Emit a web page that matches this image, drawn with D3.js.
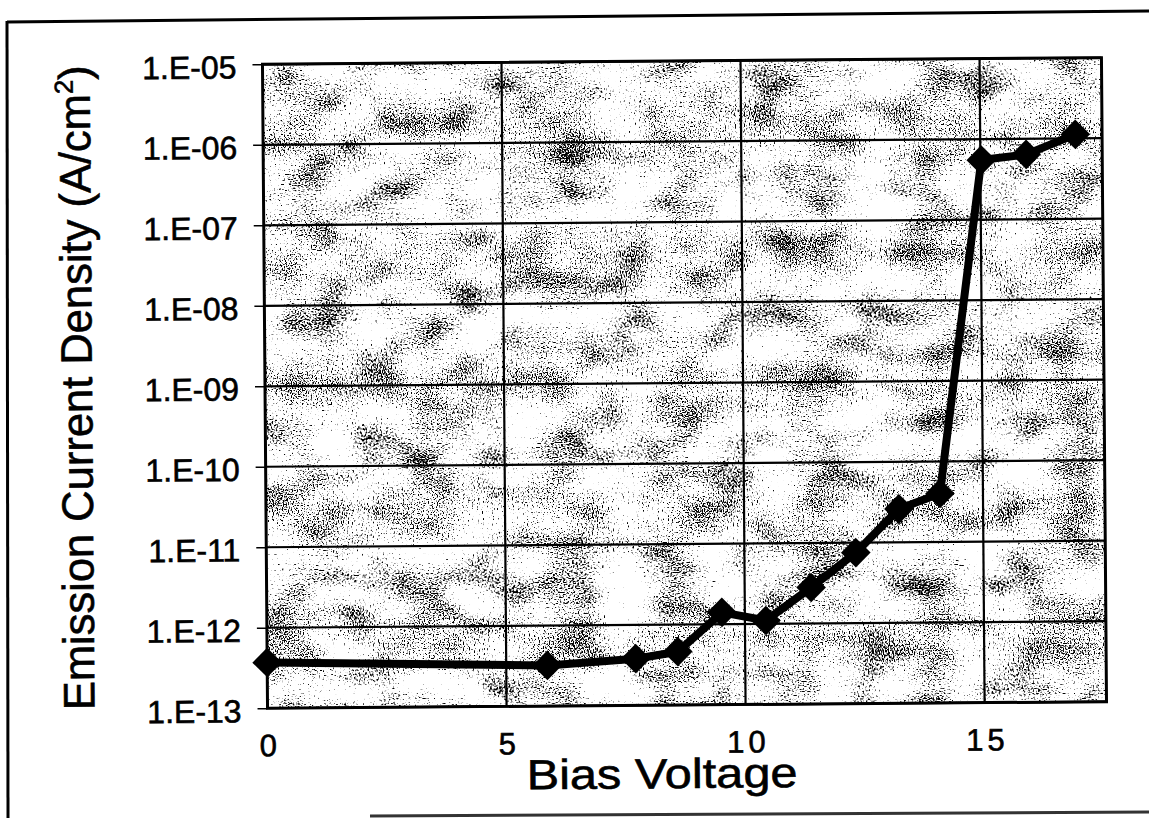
<!DOCTYPE html>
<html>
<head>
<meta charset="utf-8">
<script src="https://cdn.jsdelivr.net/npm/d3@7"></script>
<style>
  html, body { margin: 0; padding: 0; background: #fff; }
  svg { display: block; }
  text { font-family: "Liberation Sans", Arial, Helvetica, sans-serif; fill: #000; stroke: #000; stroke-width: 0.6px; }
</style>
</head>
<body>
<svg id="chart" width="1149" height="818"></svg>
<script>
// ---- data ----
const voltage = [0, 5.86, 7.71, 8.59, 9.52, 10.44, 11.39, 12.33, 13.24, 14.10, 15.02, 15.96, 16.99];
const current = [3.7e-13, 3.2e-13, 3.8e-13, 4.6e-13, 1.4e-12, 1.1e-12, 2.8e-12, 7.5e-12, 2.6e-11, 4.0e-11, 5.5e-7, 6.4e-7, 1.12e-6];
const yTickValues = [1e-13, 1e-12, 1e-11, 1e-10, 1e-9, 1e-8, 1e-7, 1e-6, 1e-5];
const yTickLabels = ["1.E-13", "1.E-12", "1.E-11", "1.E-10", "1.E-09", "1.E-08", "1.E-07", "1.E-06", "1.E-05"];
const xTickValues = [0, 5, 10, 15];
const xTickLabels = ["0", "5", "10", "15"];
const xDomain = [0, 17.55];
const yDomain = [1e-13, 1e-5];
const xTitle = "Bias Voltage";
const yTitle = "Emission Current Density (A/cm";

(function () {
// ---- layout ----
const W = 1149, H = 818;
const pL = 265, pR = 1104, pT = 61, pB = 705;

const svg = d3.select("#chart");

// speckle texture filter (scan-like dithering of grey fill)
const defs = svg.append("defs");
const f = defs.append("filter").attr("id", "grain")
  .attr("x", 0).attr("y", 0).attr("width", "100%").attr("height", "100%")
  .attr("color-interpolation-filters", "sRGB");
f.append("feTurbulence").attr("type", "fractalNoise").attr("baseFrequency", 0.8)
  .attr("numOctaves", 1).attr("seed", 4).attr("result", "fineRaw");
f.append("feColorMatrix").attr("in", "fineRaw").attr("type", "matrix")
  .attr("values", "1 0 0 0 0  1 0 0 0 0  1 0 0 0 0  0 0 0 0 1").attr("result", "fine");
f.append("feTurbulence").attr("type", "fractalNoise").attr("baseFrequency", "0.02 0.03")
  .attr("numOctaves", 2).attr("seed", 11).attr("result", "coarseRaw");
f.append("feColorMatrix").attr("in", "coarseRaw").attr("type", "matrix")
  .attr("values", "1 0 0 0 0  1 0 0 0 0  1 0 0 0 0  0 0 0 0 1").attr("result", "coarse");
f.append("feComposite").attr("in", "fine").attr("in2", "coarse").attr("operator", "arithmetic")
  .attr("k1", 0).attr("k2", 1).attr("k3", 0.35).attr("k4", -0.175).attr("result", "mix");
f.append("feColorMatrix").attr("in", "mix").attr("type", "matrix")
  .attr("values", "0 0 0 0 0  0 0 0 0 0  0 0 0 0 0  10 0 0 0 -5.4");

// outer frame (scanned page border)
svg.append("line").attr("x1", 7).attr("y1", 22).attr("x2", W).attr("y2", 11)
  .attr("stroke", "#000").attr("stroke-width", 3);
svg.append("line").attr("x1", 7).attr("y1", 21).attr("x2", 8).attr("y2", H)
  .attr("stroke", "#000").attr("stroke-width", 3);
svg.append("line").attr("x1", 370).attr("y1", 816).attr("x2", W).attr("y2", 812)
  .attr("stroke", "#333").attr("stroke-width", 3);

const g = svg.append("g").attr("transform", "rotate(-0.45, 682, 384)");

const x = d3.scaleLinear().domain(xDomain).range([pL, pR]);
const y = d3.scaleLog().domain(yDomain).range([pB, pT]);

// plot background + texture
g.append("rect").attr("x", pL).attr("y", pT).attr("width", pR - pL).attr("height", pB - pT)
  .attr("fill", "#fff");
g.append("rect").attr("x", pL).attr("y", pT).attr("width", pR - pL).attr("height", pB - pT)
  .attr("fill", "#fff").attr("filter", "url(#grain)");

// gridlines
g.append("g").selectAll("line").data(yTickValues).join("line")
  .attr("x1", pL).attr("x2", pR)
  .attr("y1", d => y(d)).attr("y2", d => y(d))
  .attr("stroke", "#000").attr("stroke-width", 2.2);
g.append("g").selectAll("line").data(xTickValues.filter(v => v > xDomain[0])).join("line")
  .attr("x1", d => x(d)).attr("x2", d => x(d))
  .attr("y1", pT).attr("y2", pB)
  .attr("stroke", "#000").attr("stroke-width", 2.2);

// y axis
const yAxis = d3.axisLeft(y).tickValues(yTickValues)
  .tickFormat((d, i) => yTickLabels[i]).tickSize(10).tickPadding(16);
const ya = g.append("g").attr("transform", `translate(${pL},0)`).call(yAxis)
  .attr("font-size", 32).attr("font-family", null);
ya.select(".domain").remove();
ya.selectAll(".tick line").attr("stroke", "#000").attr("stroke-width", 1.5);
ya.selectAll(".tick text").attr("dy", "0.42em").attr("fill", "#000");

// x axis (labels only)
const xAxis = d3.axisBottom(x).tickValues(xTickValues)
  .tickFormat((d, i) => xTickLabels[i]).tickSize(0).tickPadding(26);
const xa = g.append("g").attr("transform", `translate(0,${pB})`).call(xAxis)
  .attr("font-size", 31).attr("font-family", null);
xa.select(".domain").remove();
xa.selectAll(".tick text").attr("letter-spacing", 4).attr("dx", 2).attr("fill", "#000");

// plot border
g.append("rect").attr("x", pL).attr("y", pT).attr("width", pR - pL).attr("height", pB - pT)
  .attr("fill", "none").attr("stroke", "#000").attr("stroke-width", 3);

// series line
const pts = voltage.map((v, i) => [v, current[i]]);
g.append("path").datum(pts)
  .attr("d", d3.line().x(d => x(d[0])).y(d => y(d[1])))
  .attr("fill", "none").attr("stroke", "#000").attr("stroke-width", 8)
  .attr("stroke-linejoin", "round");

// diamond markers
const sym = d3.symbol().type(d3.symbolSquare).size(440);
g.append("g").selectAll("path").data(pts).join("path")
  .attr("d", sym)
  .attr("transform", d => `translate(${x(d[0])},${y(d[1])}) rotate(45)`)
  .attr("fill", "#000");

// x title
g.append("text").attr("x", 659).attr("y", 788).attr("text-anchor", "middle")
  .attr("font-size", 42).attr("textLength", 271).attr("lengthAdjust", "spacingAndGlyphs")
  .text(xTitle);

// y title
const yt = g.append("text").attr("transform", "translate(92,383) rotate(-90)")
  .attr("text-anchor", "middle").attr("font-size", 44)
  .attr("textLength", 645).attr("lengthAdjust", "spacingAndGlyphs");
yt.append("tspan").text(yTitle);
yt.append("tspan").attr("font-size", 26).attr("dy", -17).text("2");
yt.append("tspan").attr("dy", 17).text(")");
})();
</script>
</body>
</html>
